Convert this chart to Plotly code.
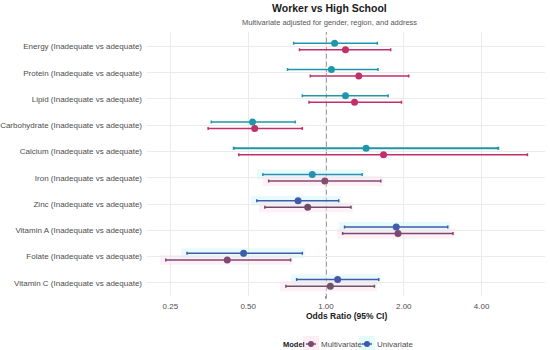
import plotly.graph_objects as go

# ---------------- data ----------------
nutrients = ["Energy", "Protein", "Lipid", "Carbohydrate", "Calcium",
             "Iron", "Zinc", "Vitamin A", "Folate", "Vitamin C"]
row_labels = [f"{n} (Inadequate vs adequate)" for n in nutrients]

uni_or = [1.08, 1.05, 1.19, 0.52, 1.43, 0.885, 0.78, 1.87, 0.48, 1.11]
uni_lo = [0.75, 0.71, 0.81, 0.36, 0.44, 0.57, 0.54, 1.18, 0.29, 0.77]
uni_hi = [1.58, 1.59, 1.74, 0.76, 4.64, 1.38, 1.12, 2.96, 0.81, 1.60]

multi_or = [1.19, 1.34, 1.29, 0.53, 1.67, 0.99, 0.85, 1.90, 0.415, 1.04]
multi_lo = [0.79, 0.87, 0.86, 0.35, 0.46, 0.60, 0.58, 1.16, 0.24, 0.70]
multi_hi = [1.78, 2.09, 1.96, 0.81, 6.02, 1.63, 1.25, 3.10, 0.73, 1.54]

x_tick_vals = [0.25, 0.5, 1, 2, 4]
x_tick_text = ["0.25", "0.50", "1.00", "2.00", "4.00"]

# ---------------- styles ----------------
uni_colors = ["#1E97AC", "#1E97AC", "#1E97AC", "#1E97AC", "#1E97AC",
              "#2C8EB2", "#3F5BAA", "#3E5DAB", "#3C5EAA", "#4A57A8"]
multi_colors = ["#C2306C", "#C2306C", "#C2306C", "#C2306C", "#C2306C",
                "#874A71", "#6F4B68", "#7E466F", "#814872", "#6E5467"]
shade_rows = [False, False, False, False, False, True, True, True, True, True]

W, H = 550, 350
L, R, T, B = 147, 545, 32, 296
FONT = "Liberation Sans, Arial, sans-serif"


def px_x(px):
    return (px - L) / (R - L)


def px_y(py):
    return 1 - (py - T) / (B - T)


fig = go.Figure()
shapes = []
dodge = 0.125

for i, lab in enumerate(row_labels):
    pos = i + 1
    series = [
        ("Univariate", uni_or[i], uni_lo[i], uni_hi[i], uni_colors[i], pos - dodge,
         "rgba(210,248,250,0.5)"),
        ("Multivariate", multi_or[i], multi_lo[i], multi_hi[i], multi_colors[i], pos + dodge,
         "rgba(252,226,238,0.5)"),
    ]
    for name, v, lo, hi, col, yy, shade in series:
        if shade_rows[i]:
            shapes.append(dict(type="rect", xref="x", yref="y", x0=lo * 0.95, x1=hi * 1.02,
                               y0=yy - 0.19, y1=yy + 0.19, fillcolor=shade,
                               line=dict(width=0), layer="below"))
        thick = 2.2 if (nutrients[i] == "Calcium" and name == "Univariate") else 1.5
        fig.add_trace(go.Scatter(
            x=[v], y=[yy], mode="markers", name=name, showlegend=False,
            marker=dict(size=7, color=col),
            error_x=dict(type="data", symmetric=False, array=[hi - v], arrayminus=[v - lo],
                         color=col, thickness=thick, width=1.5),
            hovertemplate=f"{lab}<br>{name}: %{{x:.2f}}<extra></extra>",
        ))

# reference line at OR = 1
shapes.append(dict(type="line", xref="x", yref="paper", x0=1, x1=1, y0=-0.01, y1=1,
                   line=dict(color="#444444", width=1.1, dash="5px,3px"), layer="below"))

# manual legend
leg_y = px_y(344)
legend_items = [("Multivariate", "#7B4A6E", 311, 319, "rgba(252,226,238,0.6)"),
                ("Univariate", "#4057AA", 367, 375, "rgba(210,248,250,0.6)")]
annotations = [
    dict(text="<b>Worker vs High School</b>", xref="paper", yref="paper",
         x=px_x(329), y=px_y(8), xanchor="center", yanchor="middle", showarrow=False,
         font=dict(family=FONT, size=10.5, color="#1a1a1a")),
    dict(text="Multivariate adjusted for gender, region, and address", xref="paper", yref="paper",
         x=px_x(329), y=px_y(22), xanchor="center", yanchor="middle", showarrow=False,
         font=dict(family=FONT, size=7.5, color="#555555")),
    dict(text="<b>Odds Ratio (95% CI)</b>", xref="paper", yref="paper",
         x=px_x(346), y=px_y(316), xanchor="center", yanchor="middle", showarrow=False,
         font=dict(family=FONT, size=8.5, color="#1a1a1a")),
    dict(text="<b>Model</b>", xref="paper", yref="paper",
         x=px_x(281), y=leg_y, xanchor="left", yanchor="middle", showarrow=False,
         font=dict(family=FONT, size=7.5, color="#1a1a1a")),
]
for name, col, cx, tx, bg in legend_items:
    shapes.append(dict(type="rect", xref="paper", yref="paper",
                       x0=px_x(cx - 8), x1=px_x(cx + 8), y0=px_y(352), y1=px_y(336),
                       fillcolor=bg, line=dict(width=0)))
    shapes.append(dict(type="line", xref="paper", yref="paper",
                       x0=px_x(cx - 5), x1=px_x(cx + 5), y0=leg_y, y1=leg_y,
                       line=dict(color=col, width=1.5)))
    shapes.append(dict(type="circle", xref="paper", yref="paper",
                       x0=px_x(cx - 3), x1=px_x(cx + 3), y0=px_y(341), y1=px_y(347),
                       fillcolor=col, line=dict(width=0)))
    annotations.append(dict(text=name, xref="paper", yref="paper", x=px_x(tx), y=leg_y,
                            xanchor="left", yanchor="middle", showarrow=False,
                            font=dict(family=FONT, size=8, color="#4D4D4D")))

fig.update_layout(
    width=W, height=H,
    margin=dict(l=L, r=W - R, t=T, b=H - B, pad=0, autoexpand=False),
    paper_bgcolor="white", plot_bgcolor="white",
    font=dict(family=FONT, size=8, color="#4D4D4D"),
    shapes=shapes, annotations=annotations, showlegend=False,
    xaxis=dict(type="log", range=[-0.6925, 0.8476], tickvals=x_tick_vals, ticktext=x_tick_text,
               showgrid=True, gridcolor="#EBEBEB", gridwidth=1, zeroline=False, showline=False,
               ticks="", tickfont=dict(size=8, color="#4D4D4D"), ticklabelstandoff=4,
               automargin=False),
    yaxis=dict(range=[10.5, 0.45], tickvals=list(range(1, len(row_labels) + 1)),
               ticktext=row_labels, showgrid=True, gridcolor="#EBEBEB", gridwidth=1,
               zeroline=False, showline=False, ticks="",
               tickfont=dict(size=8, color="#4D4D4D"), ticklabelstandoff=4,
               automargin=False),
)

fig.write_html("out.html", config={"displayModeBar": False},
               post_script="document.body.style.margin='0';document.body.style.overflow='hidden';")
